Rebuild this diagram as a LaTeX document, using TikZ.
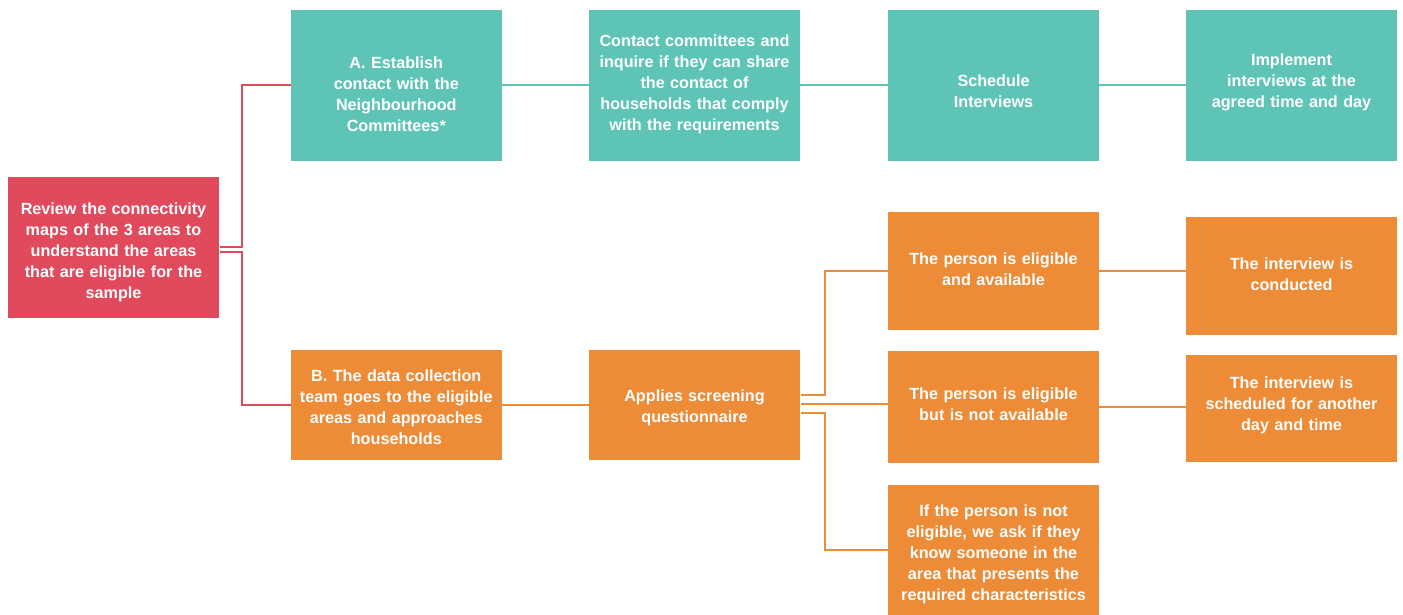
\documentclass[tikz,border=0pt]{standalone}
\usepackage{fontspec}
\setmainfont{Liberation Sans}
\definecolor{cred}{HTML}{E1495C}
\definecolor{cteal}{HTML}{5EC4B6}
\definecolor{corange}{HTML}{EE8B37}
\begin{document}
\begin{tikzpicture}[x=1pt,y=-1pt,
  box/.style={draw=none, inner sep=0pt, minimum width=211pt},
  boxtext/.style={inner sep=0pt, text=white, align=center,
    font=\bfseries\fontsize{16.2}{21}\selectfont, text width=205pt},
  redbox/.style={box, fill=cred},
  tealbox/.style={box, fill=cteal},
  orangebox/.style={box, fill=corange},
  redline/.style={draw=cred, line width=2pt},
  tealline/.style={draw=cteal, line width=2pt},
  orangeline/.style={draw=corange, line width=2pt}]
\useasboundingbox (0,0) rectangle (1403,615);

% boxes
\node[redbox, minimum height=141pt] (r) at (113.5,247.5) {};
\node[tealbox, minimum height=151pt] (a) at (396.3,85.5) {};
\node[tealbox, minimum height=151pt] (c) at (694.5,85.5) {};
\node[tealbox, minimum height=151pt] (s) at (993.5,85.5) {};
\node[tealbox, minimum height=151pt] (im) at (1291.5,85.5) {};
\node[orangebox, minimum height=110pt] (b) at (396.3,405) {};
\node[orangebox, minimum height=110pt] (ap) at (694.5,405) {};
\node[orangebox, minimum height=118pt] (ea) at (993.5,271) {};
\node[orangebox, minimum height=112pt] (ena) at (993.5,407) {};
\node[orangebox, minimum height=130pt] (ne) at (993.5,550) {};
\node[orangebox, minimum height=118pt] (cd) at (1291.5,276) {};
\node[orangebox, minimum height=107pt] (sc) at (1291.5,408.5) {};

% texts
\node[boxtext] (r-t) at ([yshift=-5pt]r.center)
  {Review the connectivity\\maps of the 3 areas to\\understand the areas\\that are eligible for the\\sample};
\node[boxtext] (a-t) at ([yshift=-9pt]a.center)
  {A. Establish\\contact with the\\Neighbourhood\\Committees*};
\node[boxtext] (c-t) at ([yshift=1pt]c.center)
  {Contact committees and\\inquire if they can share\\the contact of\\households that comply\\with the requirements};
\node[boxtext] (s-t) at ([yshift=-6pt]s.center)
  {Schedule\\Interviews};
\node[boxtext] (im-t) at ([yshift=3pt]im.center)
  {Implement\\interviews at the\\agreed time and day};
\node[boxtext] (b-t) at ([yshift=-2pt]b.center)
  {B. The data collection\\team goes to the eligible\\areas and approaches\\households};
\node[boxtext] (ap-t) at ([yshift=-3pt]ap.center)
  {Applies screening\\questionnaire};
\node[boxtext] (ea-t) at ([yshift=2pt]ea.center)
  {The person is eligible\\and available};
\node[boxtext] (ena-t) at ([yshift=3pt]ena.center)
  {The person is eligible\\but is not available};
\node[boxtext] (ne-t) at ([yshift=-4pt]ne.center)
  {If the person is not\\eligible, we ask if they\\know someone in the\\area that presents the\\required characteristics};
\node[boxtext] (cd-t) at ([yshift=2pt]cd.center)
  {The interview is\\conducted};
\node[boxtext] (sc-t) at ([yshift=3pt]sc.center)
  {The interview is\\scheduled for another\\day and time};

% red connectors
\draw[redline] ([xshift=1pt,yshift=0.5pt]r.east) -- ++(22,0) |- (a.west);
\draw[redline] ([xshift=1pt,yshift=-4.5pt]r.east) -- ++(22,0) |- (b.west);

% teal connectors
\draw[tealline] (a.east) -- (c.west);
\draw[tealline] (c.east) -- (s.west);
\draw[tealline] (s.east) -- (im.west);

% orange connectors
\draw[orangeline] (b.east) -- (ap.west);
\draw[orangeline] ([xshift=1pt,yshift=10pt]ap.east) -- ++(24,0) |- (ea.west);
\draw[orangeline] ([xshift=1pt,yshift=1pt]ap.east) -- ([yshift=1pt]ap.east -| ena.west);
\draw[orangeline] ([xshift=1pt,yshift=-8pt]ap.east) -- ++(24,0) |- (ne.west);
\draw[orangeline] (ea.east) -- (ea.east -| cd.west);
\draw[orangeline] (ena.east) -- (ena.east -| sc.west);
\end{tikzpicture}
\end{document}
